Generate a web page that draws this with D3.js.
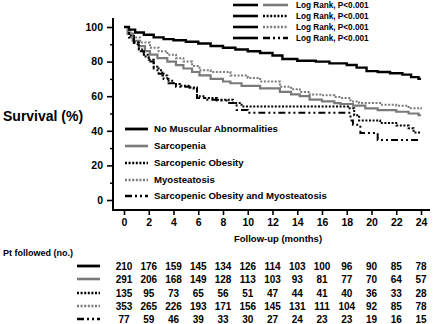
<!DOCTYPE html>
<html>
<head>
<meta charset="utf-8">
<script src="https://cdn.jsdelivr.net/npm/d3@7"></script>
<style>
  body { margin: 0; background: #fff; }
  svg text { font-family: "Liberation Sans", Arial, sans-serif; font-weight: bold; fill: #000; }
</style>
</head>
<body>
<div id="chart"></div>
<script>
var width = 435, height = 324;

// survival steps [month, %]
var noAbnormal = [[0,100],[0.4,98.5],[0.9,96.8],[1.6,95.5],[2.4,94],[3.2,93],[4,92.3],[5,91.5],[6,90.5],[7,89],[8,88],[9,87],[10,86],[11,85],[12,83.5],[12.8,81.5],[14,80.5],[15.5,80],[16.6,79],[18,78],[18.8,76.5],[19.6,74.5],[20.5,74],[21.5,73.3],[22.5,72.5],[23.2,71],[23.8,70],[24,70]];
var sarcopenia = [[0,100],[0.3,96],[0.7,92],[1.2,89],[1.7,86],[2.1,84],[2.7,82],[3.5,80],[4.2,78],[4.8,76],[5.5,74],[6.1,72],[7,70],[8,68.5],[8.6,67.5],[9.5,66],[11,64.5],[12.6,62.5],[13.5,61],[14.2,60],[15,58],[16,57],[17,56],[17.5,55.5],[18.5,54.5],[19.5,53],[20.5,52],[22,51],[23,50],[23.8,49],[24,49]];
var sarcObesity = [[0,100],[0.4,95],[0.8,91],[1.2,87],[1.6,84],[2,81],[2.4,77],[2.7,75],[3.1,72],[3.5,69],[4,67],[4.5,66],[5.3,65],[5.9,60],[6.5,59],[7.5,58],[8.8,56],[9.5,54],[16,54],[18.1,53],[18.6,49],[19,46],[20.7,44.5],[22,43],[23,41.5],[23.4,39],[24,39]];
var myosteatosis = [[0,100],[0.3,97],[0.7,94],[1.3,91],[2.1,88],[2.8,86],[3.5,84],[4.2,82],[4.8,80],[5.5,77.5],[6.1,75],[7,74],[8.6,72],[10,70.5],[11,68.5],[12.6,65.5],[13.5,64],[14.2,62.5],[15,61],[16,60.5],[17,59.5],[17.5,59],[18.3,57],[19,56],[20.7,55],[22,54.5],[23,53],[24,52.5]];
var combined = [[0,100],[0.4,94],[0.8,90],[1.2,86],[1.6,83],[2,80],[2.4,76],[2.8,73],[3.2,70],[3.6,67.5],[4.2,65.5],[5.3,64.5],[5.9,59],[6.5,58],[7.5,57.5],[8.5,56],[9.1,52],[10,50.5],[18,50.5],[18.3,46],[18.5,43.5],[19.1,38.7],[20.4,38.7],[20.5,34.7],[24,34.7]];

var groupNames = ['No Muscular Abnormalities','Sarcopenia','Sarcopenic Obesity','Myosteatosis','Sarcopenic Obesity and Myosteatosis'];
var riskMonths = [0,2,4,6,8,10,12,14,16,18,20,22,24];
var riskCounts = [
  [210,176,159,145,134,126,114,103,100,96,90,85,78],
  [291,206,168,149,128,113,103,93,81,77,70,64,57],
  [135,95,73,65,56,51,47,44,41,40,36,33,28],
  [353,265,226,193,171,156,145,131,111,104,92,85,78],
  [77,59,46,39,33,30,27,24,23,23,19,16,15]
];
var yTicks = [0,20,40,60,80,100];
var xTicks = [0,2,4,6,8,10,12,14,16,18,20,22,24];

var styles = [
  {color:'#000', w:2.4, dash:null},
  {color:'#7a7a7a', w:2.2, dash:null},
  {color:'#000', w:2, dash:'2,1.6'},
  {color:'#7a7a7a', w:2, dash:'2,1.6'},
  {color:'#000', w:2, dash:'7,3,2,3,2,3'}
];
var series = [noAbnormal, sarcopenia, sarcObesity, myosteatosis, combined];

var svg = d3.select('#chart').append('svg')
  .attr('width', width).attr('height', height);

var x = d3.scaleLinear().domain([0,24]).range([124,421]);
var y = d3.scaleLinear().domain([0,100]).range([200,27]);

// axes
var yAxis = svg.append('g').attr('transform','translate(113,0)')
  .call(d3.axisLeft(y).tickValues(yTicks).tickSize(6).tickSizeOuter(0).tickPadding(4));
yAxis.select('.domain').remove();
yAxis.selectAll('line').attr('stroke-width',1.6);
yAxis.selectAll('text').style('font-size','10.5px').attr('fill','#000');
svg.append('g').attr('transform','translate(113,0)')
  .call(d3.axisLeft(y).tickValues([10,30,50,70,90]).tickSize(3).tickFormat(''))
  .call(function(g){ g.select('.domain').remove(); g.selectAll('line').attr('stroke-width',1.4); });

var xAxis = svg.append('g').attr('transform','translate(0,210)')
  .call(d3.axisBottom(x).tickValues(xTicks).tickSize(5).tickSizeOuter(0).tickPadding(4));
xAxis.select('.domain').remove();
xAxis.selectAll('line').attr('stroke-width',1.6);
xAxis.selectAll('text').style('font-size','10.5px').attr('fill','#000');

svg.append('line').attr('x1',113).attr('x2',113).attr('y1',18).attr('y2',211)
  .attr('stroke','#000').attr('stroke-width',2);
svg.append('line').attr('x1',112).attr('x2',430).attr('y1',210).attr('y2',210)
  .attr('stroke','#000').attr('stroke-width',2);

svg.append('text').attr('x',3).attr('y',121).style('font-size','14px').text('Survival (%)');
svg.append('text').attr('x',278).attr('y',242).attr('text-anchor','middle')
  .style('font-size','9.5px').text('Follow-up (months)');

// curves
var line = d3.line().x(function(d){ return x(d[0]); }).y(function(d){ return y(d[1]); })
  .curve(d3.curveStepAfter);
series.forEach(function(s, i){
  svg.append('path').datum(s)
    .attr('d', line)
    .attr('fill','none')
    .attr('stroke', styles[i].color)
    .attr('stroke-width', styles[i].w)
    .attr('stroke-dasharray', styles[i].dash);
});

// legend in plot
var legY = [129,146,163,180,196];
groupNames.forEach(function(name, i){
  svg.append('line').attr('x1',125).attr('x2',148).attr('y1',legY[i]).attr('y2',legY[i])
    .attr('stroke', styles[i].color).attr('stroke-width', styles[i].w + 0.4)
    .attr('stroke-dasharray', styles[i].dash);
  svg.append('text').attr('x',154).attr('y',legY[i]).attr('dy','0.35em')
    .style('font-size','9.6px').text(name);
});

// log rank legend
var lrY = [5,16,27,38];
lrY.forEach(function(yy, i){
  var st = styles[i+1];
  svg.append('line').attr('x1',233).attr('x2',258).attr('y1',yy).attr('y2',yy)
    .attr('stroke','#000').attr('stroke-width',2.6);
  svg.append('line').attr('x1',263).attr('x2',288).attr('y1',yy).attr('y2',yy)
    .attr('stroke',st.color).attr('stroke-width',st.w + 0.4).attr('stroke-dasharray',st.dash);
  svg.append('text').attr('x',296).attr('y',yy).attr('dy','0.35em')
    .style('font-size','8.2px').text('Log Rank, P<0.001');
});

// number at risk
svg.append('text').attr('x',3).attr('y',253).attr('dy','0.35em')
  .style('font-size','9px').text('Pt followed (no.)');
var rowY = [266,279,293,306,319];
riskCounts.forEach(function(row, i){
  svg.append('line').attr('x1',77).attr('x2',100).attr('y1',rowY[i]).attr('y2',rowY[i])
    .attr('stroke', styles[i].color).attr('stroke-width', styles[i].w + 0.4)
    .attr('stroke-dasharray', styles[i].dash);
  svg.selectAll(null).data(row).enter().append('text')
    .attr('x', function(d, j){ return x(riskMonths[j]); })
    .attr('y', rowY[i]).attr('dy','0.35em')
    .attr('text-anchor','middle')
    .style('font-size','10px')
    .text(function(d){ return d; });
});
</script>
</body>
</html>
